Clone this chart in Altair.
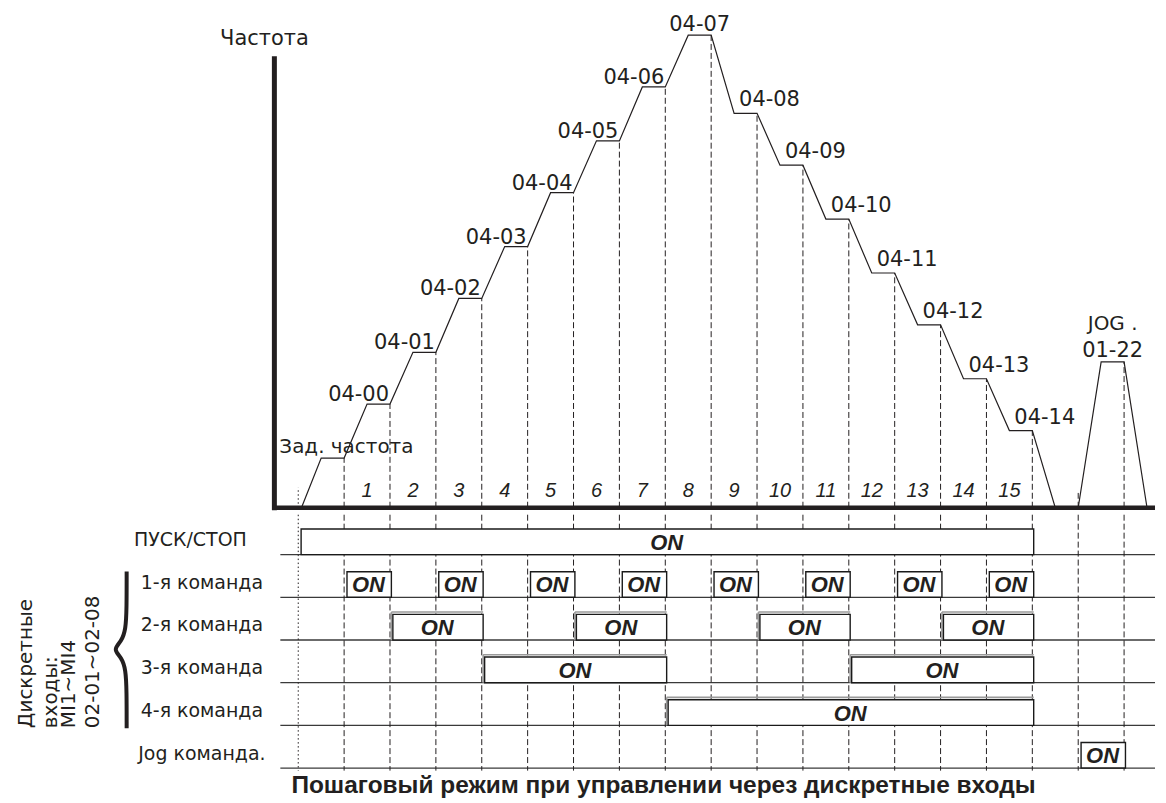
import altair as alt
import pandas as pd

# ---------------- data ----------------
UP_LABELS = ["Зад. частота", "04-00", "04-01", "04-02", "04-03", "04-04", "04-05", "04-06", "04-07"]
UP_LEVELS = [4.7, 9.8, 14.7, 19.8, 24.7, 29.8, 34.7, 39.8, 44.7]
DOWN_LABELS = ["04-08", "04-09", "04-10", "04-11", "04-12", "04-13", "04-14"]
DOWN_LEVELS = [37.3, 32.4, 27.3, 22.2, 17.3, 12.2, 7.3]
JOG_LINES = ["JOG .", "01-22"]
JOG_LEVEL = 13.8
STEP_NUMBERS = [str(i) for i in range(1, 16)]
ROW_LABELS = ["ПУСК/СТОП", "1-я команда", "2-я команда", "3-я команда", "4-я команда", "Jog команда."]
ON_ROW = [0, 1, 1, 1, 1, 1, 1, 1, 1, 2, 2, 2, 2, 3, 3, 4, 5]
ON_START = [0, 1, 3, 5, 7, 9, 11, 13, 15, 2, 6, 10, 14, 4, 12, 8, 17]
ON_END = [16, 2, 4, 6, 8, 10, 12, 14, 16, 4, 8, 12, 16, 8, 16, 16, 18]
SIDE_LINES = ["Дискретные", "входы:", "MI1~MI4", "02-01~02-08"]
Y_TITLE = "Частота"
TITLE = "Пошаговый режим при управлении через дискретные входы"

# ---------------- layout ----------------
W = 1150
H_TOP, H_BOT = 505, 280
XD = [-6.326, 18.674]
YD_TOP = [-0.472, 47.17]
YD_BOT = [0.0654, 6.607]
RAMP = 0.5
AX_T = -0.52
FONT = "DejaVu Sans"
INK = "#231f20"

xs = alt.Scale(domain=XD, nice=False, zero=False)
yt = alt.Scale(domain=YD_TOP, nice=False, zero=False)
yb = alt.Scale(domain=YD_BOT, nice=False, zero=False, reverse=True)


def X(f="x"):
    return alt.X(f"{f}:Q", scale=xs, axis=None)


def YT(f="y"):
    return alt.Y(f"{f}:Q", scale=yt, axis=None)


def YB(f="y"):
    return alt.Y(f"{f}:Q", scale=yb, axis=None)


# ---------- frequency profile ----------
pts = [(0.07, 0.0)]
for i, lv in enumerate(UP_LEVELS):
    pts += [(i + RAMP, lv), (i + 1, lv)]
n_up = len(UP_LEVELS)
for j, lv in enumerate(DOWN_LEVELS):
    t0 = n_up + j
    pts += [(t0 + RAMP, lv), (t0 + 1, lv)]
t_end = n_up + len(DOWN_LEVELS)
pts += [(t_end + RAMP, 0.0), (t_end + 1, 0.0), (t_end + 1 + RAMP, JOG_LEVEL),
        (t_end + 2, JOG_LEVEL), (t_end + 2 + RAMP, 0.0)]
prof = pd.DataFrame({"x": [p[0] for p in pts], "y": [p[1] for p in pts], "o": range(len(pts))})

profile = alt.Chart(prof).mark_line(color=INK, strokeWidth=1.2).encode(x=X(), y=YT(), order="o:Q")

corner_levels = UP_LEVELS + DOWN_LEVELS
dash_df = pd.DataFrame({"x": list(range(1, len(corner_levels) + 1)) + [t_end + 2, t_end + 1],
                        "y": [0.0] * (len(corner_levels) + 2),
                        "y2": corner_levels + [JOG_LEVEL, 1.4]})
dashes_top = alt.Chart(dash_df).mark_rule(color=INK, strokeWidth=1, strokeDash=[6, 3]).encode(
    x=X(), y=YT(), y2="y2:Q")
dotted_top = alt.Chart(pd.DataFrame({"x": [0], "y": [0.0], "y2": [1.9]})).mark_rule(
    color=INK, strokeWidth=1, strokeDash=[1.5, 2.5]).encode(x=X(), y=YT(), y2="y2:Q")

axis_v = alt.Chart(pd.DataFrame({"x": [AX_T], "y": [-0.25], "y2": [42.7]})).mark_rule(
    color=INK, strokeWidth=5).encode(x=X(), y=YT(), y2="y2:Q")
axis_h = alt.Chart(pd.DataFrame({"x": [AX_T - 0.05], "x2": [XD[1]], "y": [0.0]})).mark_rule(
    color=INK, strokeWidth=4.5).encode(x=X(), x2="x2:Q", y=YT())

ytitle = alt.Chart(pd.DataFrame({"x": [AX_T], "y": [44.3], "s": [Y_TITLE]})).mark_text(
    font=FONT, fontSize=21, color=INK, align="center", baseline="middle", dx=-10).encode(
    x=X(), y=YT(), text="s:N")

steps_df = pd.DataFrame({"x": [i + 1.5 for i in range(len(STEP_NUMBERS))], "y": [1.0] * len(STEP_NUMBERS),
                         "s": STEP_NUMBERS})
steps = alt.Chart(steps_df).mark_text(font="Liberation Sans", fontStyle="italic", fontSize=20, color=INK,
                                      align="center", baseline="alphabetic").encode(x=X(), y=YT(), text="s:N")

up_df = pd.DataFrame({"x": [i + 1 for i in range(1, n_up - 1)], "y": UP_LEVELS[1:-1], "s": UP_LABELS[1:-1]})
up_txt = alt.Chart(up_df).mark_text(font=FONT, fontSize=21, color=INK, align="right",
                                    baseline="alphabetic", dx=-1, dy=-3).encode(x=X(), y=YT(), text="s:N")
zad_txt = alt.Chart(pd.DataFrame({"x": [AX_T], "y": [UP_LEVELS[0]], "s": [UP_LABELS[0]]})).mark_text(
    font=FONT, fontSize=20, color=INK, align="left", baseline="alphabetic", dx=5, dy=-5).encode(
    x=X(), y=YT(), text="s:N")
top_txt = alt.Chart(pd.DataFrame({"x": [n_up - 1 + 0.75], "y": [UP_LEVELS[-1]], "s": [UP_LABELS[-1]]})).mark_text(
    font=FONT, fontSize=21, color=INK, align="center", baseline="alphabetic", dx=0, dy=-4).encode(
    x=X(), y=YT(), text="s:N")
down_df = pd.DataFrame({"x": [n_up + j + RAMP for j in range(len(DOWN_LEVELS))], "y": DOWN_LEVELS,
                        "s": DOWN_LABELS})
down_txt = alt.Chart(down_df).mark_text(font=FONT, fontSize=21, color=INK, align="left",
                                        baseline="alphabetic", dx=5, dy=-7).encode(x=X(), y=YT(), text="s:N")
jog_df = pd.DataFrame({"x": [t_end + 1.75] * 2, "y": [JOG_LEVEL] * 2, "s": JOG_LINES})
jog_txt1 = alt.Chart(jog_df.iloc[[0]]).mark_text(font=FONT, fontSize=20, color=INK, align="center",
                                                 baseline="alphabetic", dy=-32).encode(x=X(), y=YT(), text="s:N")
jog_txt2 = alt.Chart(jog_df.iloc[[1]]).mark_text(font=FONT, fontSize=21, color=INK, align="center",
                                                 baseline="alphabetic", dy=-5).encode(x=X(), y=YT(), text="s:N")

top = alt.layer(axis_v, dashes_top, dotted_top, profile, axis_h, steps, up_txt, zad_txt, top_txt,
                down_txt, jog_txt1, jog_txt2, ytitle).properties(width=W, height=H_TOP)

# ---------- timing diagram ----------
BOX_H = 0.6
rows_df = pd.DataFrame({"x": [-0.39] * len(ROW_LABELS), "x2": [XD[1]] * len(ROW_LABELS),
                        "y": [r + 1 for r in range(len(ROW_LABELS))]})
row_lines = alt.Chart(rows_df).mark_rule(color="#3a3a3a", strokeWidth=1.3).encode(x=X(), x2="x2:Q", y=YB())

bnd = list(range(1, 19))
vb_df = pd.DataFrame({"x": bnd, "y": [YD_BOT[0]] * len(bnd), "y2": [6.06] * len(bnd)})
dashes_bot = alt.Chart(vb_df).mark_rule(color=INK, strokeWidth=1, strokeDash=[6, 3]).encode(
    x=X(), y=YB(), y2="y2:Q")
dotted_bot = alt.Chart(pd.DataFrame({"x": [0], "y": [YD_BOT[0]], "y2": [6.06]})).mark_rule(
    color=INK, strokeWidth=1, strokeDash=[1.5, 2.5]).encode(x=X(), y=YB(), y2="y2:Q")

on_df = pd.DataFrame({"x": [s + 0.03 for s in ON_START], "x2": [e + 0.03 for e in ON_END],
                      "y": [r + 1 for r in ON_ROW], "y2": [r + 1 - BOX_H for r in ON_ROW],
                      "ym": [r + 1 - BOX_H / 2 for r in ON_ROW], "s": ["ON"] * len(ON_ROW)})
on_df["xm"] = (on_df["x"] + on_df["x2"]) / 2
on_df["yt"] = on_df["y2"] - 0.055
sh = on_df[on_df["y"].between(3, 5)]
shadow_top = alt.Chart(sh).mark_rule(color="#9a9a9a", strokeWidth=1.6).encode(
    x=X(), x2="x2:Q", y=YB("yt"))
shadow_left = alt.Chart(sh).mark_rule(color="#9a9a9a", strokeWidth=1.6).encode(
    x=X(), y=YB("yt"), y2="y:Q")
boxes = alt.Chart(on_df).mark_rect(fill="white", stroke="#1a1a1a", strokeWidth=1.4, xOffset=1.5).encode(
    x=X(), x2="x2:Q", y=YB(), y2="y2:Q")
on_txt = alt.Chart(on_df).mark_text(font="Liberation Sans", fontWeight="bold", fontStyle="italic",
                                    fontSize=22, color=INK, align="center", baseline="middle", dy=1).encode(
    x=X("xm"), y=YB("ym"), text="s:N")

lab_df = pd.DataFrame({"x": [-2.35] + [-2.1] * (len(ROW_LABELS) - 1),
                       "y": [r + 1 - 0.34 for r in range(len(ROW_LABELS))], "s": ROW_LABELS})
row_txt = alt.Chart(lab_df).mark_text(font=FONT, fontSize=19, color=INK, align="center",
                                      baseline="middle").encode(x=X(), y=YB(), text="s:N")

side_df = pd.DataFrame({"x": [-5.93, -5.38, -4.99, -4.47], "y": [5.065] * 4, "s": SIDE_LINES})
side_txt = alt.Chart(side_df).mark_text(font=FONT, fontSize=20, color=INK, angle=270, align="left",
                                        baseline="middle").encode(x=X(), y=YB(), text="s:N")

brace_pts = [(-3.74, 1.397), (-3.74, 2.26), (-3.76, 2.75), (-3.85, 3.03), (-4.04, 3.22),
             (-3.85, 3.41), (-3.76, 3.69), (-3.74, 4.2), (-3.74, 5.065)]
brace_df = pd.DataFrame({"x": [p[0] for p in brace_pts], "y": [p[1] for p in brace_pts],
                         "o": range(len(brace_pts))})
brace = alt.Chart(brace_df).mark_line(color=INK, strokeWidth=4, interpolate="basis").encode(
    x=X(), y=YB(), order="o:Q")

title = alt.Chart(pd.DataFrame({"x": [7.96], "y": [6.42], "s": [TITLE]})).mark_text(
    font="Liberation Sans Narrow, Liberation Sans", fontWeight="bold", fontSize=24.5, color=INK,
    align="center", baseline="middle").encode(x=X(), y=YB(), text="s:N")

bottom = alt.layer(row_lines, dashes_bot, dotted_bot, shadow_top, shadow_left, boxes, on_txt, row_txt,
                   side_txt, brace, title).properties(width=W, height=H_BOT)

chart = alt.vconcat(top, bottom, spacing=0).properties(padding=0).configure_view(stroke=None)
chart.save("out.html", embed_options={"renderer": "svg", "actions": False})
